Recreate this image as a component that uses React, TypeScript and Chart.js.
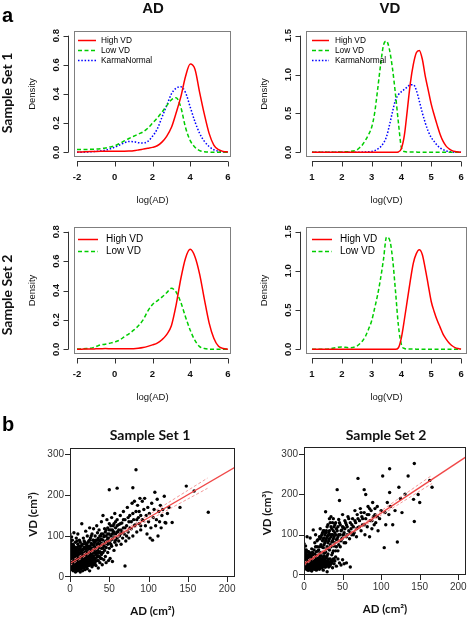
import React, { useEffect, useRef } from "react";
import { Chart, registerables } from "chart.js";
Chart.register(...registerables);

const W = 470;
const H = 619;

// ---------- density data ----------
const AD_X = [-2, -1.75, -1.5, -1.25, -1, -0.75, -0.5, -0.25, 0, 0.25, 0.5, 0.75, 1, 1.25, 1.5, 1.75, 2, 2.25, 2.5, 2.75, 3, 3.25, 3.5, 3.75, 4, 4.25, 4.5, 4.75, 5, 5.25, 5.5, 5.75, 6];
const VD_X = [1, 1.5, 2, 2.25, 2.5, 2.6, 2.7, 2.8, 2.9, 3, 3.1, 3.2, 3.3, 3.4, 3.5, 3.6, 3.7, 3.8, 3.9, 4, 4.1, 4.2, 4.3, 4.4, 4.5, 4.6, 4.7, 4.8, 4.9, 5, 5.1, 5.2, 5.3, 5.4, 5.5, 5.6, 5.7, 5.8, 5.9, 6];

const S1_AD_HIGH = [0.003, 0.003, 0.004, 0.005, 0.006, 0.007, 0.008, 0.008, 0.008, 0.008, 0.008, 0.009, 0.011, 0.016, 0.022, 0.028, 0.034, 0.045, 0.07, 0.11, 0.17, 0.27, 0.38, 0.52, 0.605, 0.57, 0.41, 0.26, 0.13, 0.05, 0.018, 0.006, 0.003];
const S1_AD_LOW = [0.02, 0.02, 0.02, 0.021, 0.022, 0.025, 0.03, 0.037, 0.045, 0.06, 0.078, 0.095, 0.11, 0.125, 0.14, 0.165, 0.2, 0.235, 0.275, 0.32, 0.36, 0.375, 0.31, 0.17, 0.08, 0.035, 0.012, 0.004, 0.001, 0, 0, 0, 0];
const S1_AD_KARMA = [0, 0.001, 0.002, 0.004, 0.006, 0.01, 0.015, 0.024, 0.035, 0.05, 0.065, 0.074, 0.073, 0.066, 0.064, 0.075, 0.11, 0.16, 0.24, 0.32, 0.4, 0.44, 0.45, 0.41, 0.31, 0.21, 0.13, 0.075, 0.04, 0.018, 0.008, 0.003, 0.001];

const S1_VD_HIGH = [0, 0, 0, 0, 0, 0, 0, 0, 0, 0, 0, 0, 0, 0, 0, 0, 0, 0, 0.005, 0.05, 0.22, 0.55, 0.89, 1.13, 1.28, 1.31, 1.2, 0.98, 0.8, 0.62, 0.48, 0.35, 0.23, 0.14, 0.08, 0.045, 0.022, 0.01, 0.004, 0.001];
const S1_VD_LOW = [0, 0, 0.005, 0.01, 0.03, 0.06, 0.1, 0.16, 0.23, 0.32, 0.5, 0.8, 1.12, 1.38, 1.43, 1.32, 1.08, 0.75, 0.38, 0.06, 0.01, 0.005, 0.004, 0.003, 0.003, 0.002, 0.002, 0.001, 0.001, 0.001, 0, 0, 0, 0, 0, 0, 0, 0, 0, 0];
const S1_VD_KARMA = [0, 0, 0, 0, 0.001, 0.002, 0.003, 0.004, 0.006, 0.01, 0.02, 0.04, 0.07, 0.12, 0.2, 0.35, 0.52, 0.67, 0.74, 0.78, 0.81, 0.84, 0.87, 0.87, 0.8, 0.66, 0.51, 0.38, 0.27, 0.19, 0.14, 0.09, 0.055, 0.035, 0.018, 0.01, 0.005, 0.002, 0.001, 0];

const S2_AD_HIGH = [0.001, 0.001, 0.002, 0.002, 0.003, 0.004, 0.005, 0.004, 0.003, 0.003, 0.003, 0.003, 0.004, 0.007, 0.012, 0.02, 0.03, 0.042, 0.065, 0.1, 0.16, 0.3, 0.48, 0.62, 0.68, 0.63, 0.51, 0.34, 0.18, 0.075, 0.02, 0.005, 0.001];
const S2_AD_LOW = [0.002, 0.003, 0.005, 0.008, 0.018, 0.03, 0.035, 0.042, 0.05, 0.062, 0.085, 0.105, 0.13, 0.16, 0.2, 0.26, 0.305, 0.33, 0.355, 0.385, 0.415, 0.39, 0.32, 0.22, 0.13, 0.06, 0.018, 0.005, 0.001, 0, 0, 0, 0];

const S2_VD_HIGH = [0, 0, 0, 0, 0, 0, 0, 0, 0, 0, 0, 0, 0, 0, 0, 0, 0, 0, 0.02, 0.15, 0.38, 0.63, 0.88, 1.1, 1.22, 1.27, 1.21, 1.03, 0.82, 0.61, 0.48, 0.37, 0.28, 0.19, 0.13, 0.08, 0.045, 0.022, 0.01, 0.003];
const S2_VD_LOW = [0, 0.002, 0.03, 0.02, 0.04, 0.07, 0.11, 0.17, 0.26, 0.36, 0.52, 0.69, 0.9, 1.15, 1.43, 1.4, 1.17, 0.75, 0.3, 0.06, 0.01, 0.004, 0.003, 0.003, 0.002, 0.002, 0.002, 0.002, 0.001, 0.001, 0, 0, 0, 0, 0, 0, 0, 0, 0, 0];

const AD_TICKS_X = [-2, 0, 2, 4, 6];
const AD_TICKS_Y = [0, 0.2, 0.4, 0.6, 0.8];
const VD_TICKS_X = [1, 2, 3, 4, 5, 6];
const VD_TICKS_Y = [0, 0.5, 1, 1.5];

// ---------- scatter data (AD cm², VD cm³) ----------
const S1_POINTS = [
  [0, 22], [0, 30], [0, 38], [0, 45], [0, 52], [0, 60], [0, 68], [0, 75], [0, 105], [1, 18], [1, 28], [1, 35], [1, 42], [1, 50], [1, 57], [1, 65], [1, 72], [1, 88], [2, 25], [2, 33], [2, 40], [2, 47], [2, 55], [2, 62], [2, 80], [2, 98], [3, 20], [3, 30], [3, 44], [3, 52], [3, 66], [3, 58],
  [4, 15], [4, 27], [4, 38], [4, 48], [4, 61], [4, 70], [5, 22], [5, 35], [5, 45], [5, 55], [5, 75], [5, 108], [6, 18], [6, 30], [6, 42], [6, 50], [6, 64], [7, 12], [7, 25], [7, 38], [7, 47], [7, 58], [7, 85], [8, 20], [8, 33], [8, 44], [8, 52], [8, 68], [8, 95], [9, 15], [9, 28], [9, 40], [9, 60], [9, 72], [10, 22], [10, 35], [10, 45], [10, 55], [10, 80], [10, 105],
  [11, 18], [11, 30], [11, 42], [11, 65], [12, 25], [12, 38], [12, 50], [12, 58], [12, 90], [13, 12], [13, 33], [13, 46], [13, 70], [14, 20], [14, 40], [14, 55], [14, 62], [15, 28], [15, 36], [15, 48], [15, 78], [15, 130], [16, 15], [16, 32], [16, 52], [16, 66], [17, 22], [17, 44], [17, 58], [17, 95], [18, 30], [18, 40], [18, 50], [18, 72], [19, 18], [19, 36], [19, 60], [19, 85], [20, 26], [20, 45], [20, 55], [20, 68], [20, 112],
  [21, 32], [21, 48], [21, 80], [22, 20], [22, 40], [22, 62], [22, 100], [23, 28], [23, 50], [23, 70], [24, 35], [24, 55], [24, 88], [25, 15], [25, 42], [25, 60], [25, 75], [25, 120], [26, 30], [26, 50], [26, 95], [27, 38], [27, 65], [27, 82], [28, 25], [28, 45], [28, 58], [28, 105], [29, 40], [29, 70], [29, 90], [30, 30], [30, 52], [30, 62], [30, 78], [30, 118],
  [31, 45], [31, 85], [32, 35], [32, 60], [32, 100], [33, 28], [33, 55], [33, 72], [34, 48], [34, 90], [34, 125], [35, 40], [35, 65], [35, 80], [35, 108], [36, 22], [36, 58], [36, 95], [37, 50], [37, 75], [37, 115], [38, 35], [38, 62], [38, 88], [39, 45], [39, 100], [40, 55], [40, 70], [40, 92], [40, 135],
  [41, 30], [41, 80], [42, 60], [42, 105], [42, 150], [43, 42], [43, 75], [43, 98], [44, 65], [44, 118], [45, 50], [45, 85], [45, 110], [46, 35], [46, 72], [46, 100], [47, 90], [47, 140], [48, 60], [48, 80], [48, 120], [49, 40], [49, 95], [50, 213], [50, 70], [50, 105], [50, 130],
  [51, 45], [51, 88], [52, 115], [52, 100], [53, 75], [53, 145], [54, 38], [54, 92], [55, 110], [55, 125], [56, 65], [56, 98], [57, 85], [57, 155], [58, 105], [58, 120], [59, 78], [60, 217], [60, 95], [60, 140],
  [61, 110], [62, 88], [62, 128], [63, 100], [64, 150], [65, 115], [65, 80], [66, 132], [67, 95], [68, 120], [68, 160], [69, 105], [70, 27], [70, 140], [71, 88], [72, 125], [73, 170], [74, 110], [75, 135], [75, 95],
  [76, 150], [78, 118], [79, 180], [80, 218], [80, 100], [81, 140], [82, 185], [83, 128], [84, 262], [84, 160], [85, 110], [86, 175], [87, 145], [88, 130], [89, 192], [90, 150], [90, 115], [92, 185], [93, 138], [94, 165], [95, 192], [96, 125], [97, 150], [98, 105], [99, 170], [100, 135],
  [101, 155], [102, 95], [103, 120], [104, 180], [105, 90], [106, 145], [107, 165], [108, 207], [109, 125], [110, 140], [111, 190], [112, 100], [113, 160], [114, 135], [115, 175], [116, 120], [117, 150], [118, 165], [120, 197], [121, 133], [122, 132], [124, 155], [126, 170], [130, 133],
  [140, 170], [148, 222], [158, 210], [176, 158],
];
const S1_POINTS_DENSE = [
  [0, 27], [0, 33], [0, 42], [0, 49], [0, 56], [0, 64], [0, 85], [0, 95], [1, 24], [1, 31], [1, 46], [1, 53], [1, 61], [1, 78], [2, 22], [2, 29], [2, 37], [2, 44], [2, 51], [2, 58], [2, 68], [3, 26], [3, 35], [3, 40], [3, 48], [3, 75], [3, 90],
  [4, 22], [4, 33], [4, 43], [4, 53], [4, 80], [5, 18], [5, 28], [5, 40], [5, 50], [5, 62], [6, 24], [6, 36], [6, 46], [6, 57], [6, 72], [7, 18], [7, 31], [7, 42], [7, 52], [7, 65], [8, 26], [8, 38], [8, 48], [8, 60], [9, 22], [9, 34], [9, 46], [9, 52], [9, 88], [10, 16], [10, 28], [10, 40], [10, 50], [10, 62],
  [11, 24], [11, 36], [11, 50], [11, 75], [12, 18], [12, 31], [12, 44], [12, 68], [13, 24], [13, 40], [13, 55], [13, 85], [14, 28], [14, 34], [14, 48], [14, 75], [15, 22], [15, 42], [15, 56], [15, 65], [16, 25], [16, 40], [16, 45], [16, 80], [17, 30], [17, 36], [17, 50], [17, 68], [18, 22], [18, 45], [18, 58], [18, 88], [19, 28], [19, 45], [19, 52], [19, 72], [20, 35], [20, 40], [20, 62], [20, 80],
  [21, 25], [21, 40], [21, 58], [21, 70], [22, 30], [22, 50], [22, 55], [22, 75], [23, 36], [23, 44], [23, 62], [23, 85], [24, 28], [24, 45], [24, 65], [24, 75], [25, 35], [25, 50], [25, 68], [25, 90], [26, 40], [26, 60], [26, 72], [27, 30], [27, 48], [27, 55], [27, 100], [28, 35], [28, 68], [28, 80], [29, 30], [29, 50], [29, 62], [29, 78], [30, 42], [30, 70], [30, 90],
  [31, 35], [31, 60], [31, 72], [32, 45], [32, 70], [32, 85], [33, 40], [33, 65], [33, 90], [34, 58], [34, 68], [34, 78], [35, 50], [35, 90], [36, 40], [36, 70], [36, 82], [37, 60], [37, 90], [38, 48], [38, 75], [38, 100], [39, 60], [39, 80], [40, 45], [40, 82], [40, 105],
  [42, 70], [42, 90], [44, 80], [44, 100], [46, 85], [46, 115], [48, 95], [48, 105], [50, 85], [50, 115], [52, 80], [52, 125], [54, 105], [54, 115], [56, 110], [56, 130], [58, 90], [58, 135], [60, 110], [60, 125], [62, 115], [64, 105], [64, 130], [66, 110], [68, 140], [70, 120], [72, 100], [74, 145], [76, 120], [78, 135], [80, 155], [82, 125], [85, 140], [88, 160], [90, 125], [92, 140],
];

const S2_POINTS = [
  [0, 22], [0, 30], [0, 38], [0, 46], [0, 55], [0, 78], [1, 18], [1, 26], [1, 34], [1, 42], [1, 50], [1, 62], [2, 20], [2, 28], [2, 36], [2, 45], [2, 72], [3, 15], [3, 24], [3, 32], [3, 40], [3, 52], [4, 18], [4, 27], [4, 35], [4, 44], [4, 95], [5, 12], [5, 22], [5, 30], [5, 38], [5, 48],
  [6, 16], [6, 25], [6, 33], [6, 42], [6, 58], [7, 20], [7, 28], [7, 36], [7, 46], [8, 14], [8, 24], [8, 32], [8, 40], [8, 52], [8, 92], [9, 18], [9, 26], [9, 35], [9, 44], [10, 10], [10, 22], [10, 30], [10, 38], [10, 48], [10, 65], [11, 16], [11, 28], [11, 36], [11, 56], [12, 20], [12, 32], [12, 42], [12, 112], [13, 14], [13, 26], [13, 38], [13, 50], [14, 22], [14, 30], [14, 44], [14, 80], [15, 18], [15, 28], [15, 36], [15, 46], [15, 100],
  [16, 12], [16, 24], [16, 32], [16, 40], [16, 58], [17, 20], [17, 30], [17, 38], [17, 70], [18, 16], [18, 26], [18, 34], [18, 48], [18, 88], [19, 22], [19, 30], [19, 42], [19, 62], [20, 14], [20, 26], [20, 36], [20, 52], [20, 95], [21, 20], [21, 32], [21, 44], [21, 115], [22, 24], [22, 38], [22, 75], [23, 18], [23, 30], [23, 56], [23, 100], [24, 26], [24, 40], [24, 85], [25, 12], [25, 22], [25, 34], [25, 68], [25, 110],
  [26, 28], [26, 48], [26, 92], [27, 20], [27, 38], [27, 80], [28, 30], [28, 58], [28, 157], [28, 105], [29, 24], [29, 45], [29, 90], [30, 8], [30, 34], [30, 70], [30, 120], [31, 28], [31, 52], [31, 98], [32, 20], [32, 40], [32, 85], [33, 32], [33, 62], [33, 110], [34, 25], [34, 75], [34, 130], [35, 36], [35, 95], [35, 145],
  [36, 30], [36, 82], [36, 115], [37, 18], [37, 55], [37, 100], [38, 40], [38, 90], [38, 140], [39, 28], [39, 72], [39, 120], [40, 35], [40, 105], [41, 60], [41, 130], [42, 22], [42, 88], [43, 212], [43, 110], [44, 40], [44, 95], [45, 75], [45, 138], [46, 185], [46, 30], [47, 100], [47, 125], [48, 25], [48, 85], [49, 112], [50, 150], [50, 38], [50, 92],
  [51, 118], [52, 28], [52, 105], [53, 135], [54, 80], [55, 30], [55, 125], [56, 100], [57, 145], [58, 110], [59, 90], [60, 20], [60, 130], [61, 115], [62, 100], [63, 140], [64, 120], [65, 105], [66, 160], [67, 130], [68, 95], [69, 150], [70, 240], [70, 118],
  [72, 135], [73, 165], [74, 110], [75, 145], [76, 125], [78, 212], [78, 155], [79, 100], [80, 200], [80, 140], [82, 120], [83, 170], [84, 150], [85, 95], [86, 135], [87, 160], [88, 115], [89, 180], [90, 145], [91, 125], [92, 150], [93, 130], [95, 170], [96, 110], [98, 140], [100, 160],
  [102, 246], [104, 68], [105, 155], [106, 125], [108, 180], [110, 150], [111, 264], [111, 205], [112, 170], [115, 125], [118, 160], [121, 82], [123, 218], [125, 190], [127, 155], [131, 201], [135, 246], [142, 188], [143, 277], [143, 133], [148, 200], [150, 180], [163, 235], [166, 218],
];
const S2_POINTS_DENSE = [
  [0, 26], [0, 34], [0, 42], [0, 50], [0, 62], [1, 22], [1, 30], [1, 38], [1, 46], [1, 55], [2, 16], [2, 24], [2, 32], [2, 40], [2, 50], [2, 58], [3, 20], [3, 28], [3, 36], [3, 45], [3, 62], [4, 14], [4, 22], [4, 31], [4, 40], [4, 50], [5, 17], [5, 26], [5, 34], [5, 43], [5, 58],
  [6, 12], [6, 20], [6, 29], [6, 37], [6, 48], [7, 16], [7, 24], [7, 32], [7, 40], [7, 55], [8, 18], [8, 28], [8, 36], [8, 46], [9, 12], [9, 22], [9, 30], [9, 40], [9, 55], [10, 14], [10, 26], [10, 34], [10, 42], [11, 20], [11, 24], [11, 32], [11, 44], [12, 16], [12, 26], [12, 36], [12, 50], [13, 20], [13, 30], [13, 44], [13, 62], [14, 16], [14, 26], [14, 36], [14, 52], [15, 14], [15, 24], [15, 32], [15, 40], [15, 70],
  [16, 20], [16, 28], [16, 36], [16, 48], [17, 16], [17, 26], [17, 34], [17, 46], [17, 85], [18, 22], [18, 30], [18, 40], [18, 60], [19, 18], [19, 26], [19, 36], [19, 50], [20, 20], [20, 30], [20, 44], [20, 70], [21, 26], [21, 38], [21, 55], [21, 90], [22, 18], [22, 30], [22, 48], [22, 95], [23, 24], [23, 38], [23, 70], [24, 20], [24, 32], [24, 55], [24, 105], [25, 28], [25, 45], [25, 90],
  [26, 22], [26, 36], [26, 75], [26, 110], [27, 28], [27, 55], [27, 100], [28, 20], [28, 42], [28, 85], [29, 32], [29, 65], [29, 110], [30, 24], [30, 48], [30, 95], [31, 38], [31, 80], [31, 125], [32, 30], [32, 65], [32, 105], [33, 22], [33, 90], [33, 140], [34, 40], [34, 100], [35, 28], [35, 70], [35, 120],
  [36, 50], [36, 100], [37, 35], [37, 85], [37, 130], [38, 60], [38, 110], [39, 40], [39, 95], [40, 80], [40, 125], [41, 45], [41, 100], [42, 70], [42, 115], [43, 90], [44, 60], [44, 120], [45, 100], [46, 85], [46, 130], [47, 70], [48, 110], [49, 90], [50, 120],
  [51, 100], [52, 80], [53, 115], [54, 130], [55, 95], [56, 120], [58, 140], [60, 105], [62, 125], [64, 100], [66, 135], [68, 115], [70, 140], [72, 120], [74, 155], [76, 140], [78, 125], [82, 150], [85, 165], [88, 135], [92, 165], [95, 145],
];

const S1_FIT_X = [0, 212];
const S1_FIT_Y = [33, 270];
const S1_CI_X = [0, 25, 50, 75, 100, 125, 150, 175];
const S1_CI_UP = [38, 64.5, 92, 121.5, 151.5, 181.5, 211.5, 241.5];
const S1_CI_LO = [28, 57.5, 86, 112.5, 138.5, 164.5, 190.5, 216.5];

const S2_FIT_X = [0, 212];
const S2_FIT_Y = [27, 296];
const S2_CI_X = [0, 25, 50, 75, 100, 125, 150, 166];
const S2_CI_UP = [31, 61.5, 93, 126, 159.5, 193, 226.5, 248];
const S2_CI_LO = [23, 56, 88, 118.5, 148.5, 178.5, 208.5, 227.5];

const SC_TICKS_X = [0, 50, 100, 150, 200];
const SC_TICKS_Y = [0, 100, 200, 300];

// ---------- styling ----------
const RED = "#ff0000";
const GREEN = "#00cd00";
const BLUE = "#0000ff";
const SANS = '"Liberation Sans", Arial, sans-serif';
const CAL = 'Lato, "Liberation Sans", sans-serif';

function xy(xs: number[], ys: number[]) {
  return xs.map((x, i) => ({ x, y: ys[i] }));
}

function dens(label: string, X: number[], Y: number[], color: string, dash: number[]) {
  return {
    label,
    data: xy(X, Y),
    borderColor: color,
    borderWidth: 1.5,
    borderDash: dash,
    pointRadius: 0,
    fill: false,
    cubicInterpolationMode: "monotone",
  };
}

const HIGH_DASH: number[] = [];
const LOW_DASH = [4, 2.5];
const KARMA_DASH = [1.5, 1.8];

type Panel = any;

const PANELS: Panel[] = [
  {
    kind: "density", box: { l: 74, t: 31, r: 231, b: 157 }, xr: [-2.16, 6.16], yr: [-0.032, 0.832],
    xTicks: AD_TICKS_X, yTicks: AD_TICKS_Y, xTitle: "log(AD)", yTitle: "Density",
    legend: { font: 8.3, x0: 4, x1: 22, tx: 27, y0: 9, dy: 10 },
    datasets: [
      dens("High VD", AD_X, S1_AD_HIGH, RED, HIGH_DASH),
      dens("Low VD", AD_X, S1_AD_LOW, GREEN, LOW_DASH),
      dens("KarmaNormal", AD_X, S1_AD_KARMA, BLUE, KARMA_DASH),
    ],
  },
  {
    kind: "density", box: { l: 306, t: 31, r: 467, b: 157 }, xr: [0.8, 6.2], yr: [-0.06, 1.56],
    xTicks: VD_TICKS_X, yTicks: VD_TICKS_Y, xTitle: "log(VD)", yTitle: "Density",
    legend: { font: 8.3, x0: 6, x1: 23, tx: 29, y0: 9, dy: 10 },
    datasets: [
      dens("High VD", VD_X, S1_VD_HIGH, RED, HIGH_DASH),
      dens("Low VD", VD_X, S1_VD_LOW, GREEN, LOW_DASH),
      dens("KarmaNormal", VD_X, S1_VD_KARMA, BLUE, KARMA_DASH),
    ],
  },
  {
    kind: "density", box: { l: 74, t: 227, r: 231, b: 354 }, xr: [-2.16, 6.16], yr: [-0.032, 0.832],
    xTicks: AD_TICKS_X, yTicks: AD_TICKS_Y, xTitle: "log(AD)", yTitle: "Density",
    legend: { font: 10, x0: 4, x1: 24, tx: 32, y0: 12, dy: 12 },
    datasets: [
      dens("High VD", AD_X, S2_AD_HIGH, RED, HIGH_DASH),
      dens("Low VD", AD_X, S2_AD_LOW, GREEN, LOW_DASH),
    ],
  },
  {
    kind: "density", box: { l: 306, t: 227, r: 467, b: 354 }, xr: [0.8, 6.2], yr: [-0.06, 1.56],
    xTicks: VD_TICKS_X, yTicks: VD_TICKS_Y, xTitle: "log(VD)", yTitle: "Density",
    legend: { font: 10, x0: 6, x1: 26, tx: 34, y0: 12, dy: 12 },
    datasets: [
      dens("High VD", VD_X, S2_VD_HIGH, RED, HIGH_DASH),
      dens("Low VD", VD_X, S2_VD_LOW, GREEN, LOW_DASH),
    ],
  },
  {
    kind: "scatter", box: { l: 70, t: 448, r: 235, b: 577 }, xr: [0, 210], yr: [0, 315],
    xTicks: SC_TICKS_X, yTicks: SC_TICKS_Y, xTitle: "AD (cm²)", yTitle: "VD (cm³)",
    points: S1_POINTS.concat(S1_POINTS_DENSE), fitX: S1_FIT_X, fitY: S1_FIT_Y, ciX: S1_CI_X, ciUp: S1_CI_UP, ciLo: S1_CI_LO,
  },
  {
    kind: "scatter", box: { l: 304, t: 447, r: 468, b: 575 }, xr: [0, 210], yr: [0, 318],
    xTicks: SC_TICKS_X, yTicks: SC_TICKS_Y, xTitle: "AD (cm²)", yTitle: "VD (cm³)",
    points: S2_POINTS.concat(S2_POINTS_DENSE), fitX: S2_FIT_X, fitY: S2_FIT_Y, ciX: S2_CI_X, ciUp: S2_CI_UP, ciLo: S2_CI_LO,
  },
];

function rotText(ctx: CanvasRenderingContext2D, text: string, x: number, y: number) {
  ctx.save();
  ctx.translate(x, y);
  ctx.rotate(-Math.PI / 2);
  ctx.textAlign = "center";
  ctx.textBaseline = "middle";
  ctx.fillText(text, 0, 0);
  ctx.restore();
}

function drawDensity(chart: any, p: Panel) {
  const ctx: CanvasRenderingContext2D = chart.ctx;
  const xs = chart.scales.x;
  const ys = chart.scales.y;
  const ca = chart.chartArea;
  const L = Math.round(ca.left), T = Math.round(ca.top), R = Math.round(ca.right), B = Math.round(ca.bottom);
  ctx.save();
  ctx.lineWidth = 1;
  ctx.strokeStyle = "#7f7f7f";
  ctx.strokeRect(L + 0.5, T + 0.5, R - L - 1, B - T - 1);

  ctx.strokeStyle = "#333";
  const ay = B + 4.5;
  ctx.beginPath();
  const xa = xs.getPixelForValue(p.xTicks[0]);
  const xb = xs.getPixelForValue(p.xTicks[p.xTicks.length - 1]);
  ctx.moveTo(xa, ay);
  ctx.lineTo(xb, ay);
  for (const t of p.xTicks) {
    const x = Math.round(xs.getPixelForValue(t)) + 0.5;
    ctx.moveTo(x, ay);
    ctx.lineTo(x, ay + 5);
  }
  const ax = L - 5.5;
  const ya = ys.getPixelForValue(p.yTicks[0]);
  const yb = ys.getPixelForValue(p.yTicks[p.yTicks.length - 1]);
  ctx.moveTo(ax, ya);
  ctx.lineTo(ax, yb);
  for (const t of p.yTicks) {
    const y = Math.round(ys.getPixelForValue(t)) + 0.5;
    ctx.moveTo(ax, y);
    ctx.lineTo(ax - 5, y);
  }
  ctx.stroke();

  ctx.fillStyle = "#111";
  ctx.font = `bold 9.5px ${SANS}`;
  ctx.textAlign = "center";
  ctx.textBaseline = "middle";
  for (const t of p.xTicks) {
    ctx.fillText(String(t), xs.getPixelForValue(t), B + 20);
  }
  for (const t of p.yTicks) {
    rotText(ctx, t.toFixed(1), L - 18, ys.getPixelForValue(t));
  }
  ctx.font = `9.5px ${SANS}`;
  ctx.fillText(p.xTitle, (L + R) / 2, B + 43);
  rotText(ctx, p.yTitle, L - 42, (T + B) / 2);

  const lg = p.legend;
  chart.data.datasets.forEach((ds: any, i: number) => {
    const y = T + lg.y0 + i * lg.dy + 0.5;
    ctx.beginPath();
    ctx.strokeStyle = ds.borderColor;
    ctx.lineWidth = 1.5;
    ctx.setLineDash(ds.borderDash || []);
    ctx.moveTo(L + lg.x0, y);
    ctx.lineTo(L + lg.x1, y);
    ctx.stroke();
    ctx.setLineDash([]);
    ctx.fillStyle = "#000";
    ctx.font = `${lg.font}px ${SANS}`;
    ctx.textAlign = "left";
    ctx.textBaseline = "middle";
    ctx.fillText(ds.label, L + lg.tx, y);
  });
  ctx.restore();
}

function drawScatter(chart: any, p: Panel) {
  const ctx: CanvasRenderingContext2D = chart.ctx;
  const xs = chart.scales.x;
  const ys = chart.scales.y;
  const ca = chart.chartArea;
  const L = Math.round(ca.left), T = Math.round(ca.top), R = Math.round(ca.right), B = Math.round(ca.bottom);
  ctx.save();
  ctx.lineWidth = 1;
  ctx.strokeStyle = "#222";
  ctx.strokeRect(L + 0.5, T + 0.5, R - L - 1, B - T - 1);
  ctx.beginPath();
  for (const t of p.yTicks) {
    const y = Math.min(Math.round(ys.getPixelForValue(t)), B - 1) + 0.5;
    ctx.moveTo(L, y);
    ctx.lineTo(L - 5, y);
  }
  for (const t of p.xTicks) {
    const x = Math.max(Math.round(xs.getPixelForValue(t)), L) + 0.5;
    ctx.moveTo(x, B);
    ctx.lineTo(x, B + 5);
  }
  ctx.stroke();
  ctx.fillStyle = "#333";
  ctx.font = `10px ${SANS}`;
  ctx.textAlign = "right";
  ctx.textBaseline = "middle";
  for (const t of p.yTicks) {
    ctx.fillText(String(t), L - 6, ys.getPixelForValue(t));
  }
  ctx.textAlign = "center";
  for (const t of p.xTicks) {
    ctx.fillText(String(t), xs.getPixelForValue(t), B + 12);
  }
  ctx.fillStyle = "#111";
  ctx.font = `bold 11.5px ${CAL}`;
  ctx.fillText(p.xTitle, (L + R) / 2, B + 34);
  rotText(ctx, p.yTitle, L - 37, (T + B) / 2 + 2);
  ctx.restore();
}

function makeConfig(p: Panel) {
  const b = p.box;
  let type: any;
  let datasets: any[];
  if (p.kind === "density") {
    type = "line";
    datasets = p.datasets;
  } else {
    type = "scatter";
    datasets = [
      {
        label: "fit", data: xy(p.fitX, p.fitY), showLine: true, borderColor: "#f04848",
        borderWidth: 1.3, pointRadius: 0, order: 0,
      },
      {
        label: "upper", data: xy(p.ciX, p.ciUp), showLine: true, borderColor: "#f08f8f",
        borderWidth: 0.9, borderDash: [3, 2], pointRadius: 0, order: 1, tension: 0.3,
      },
      {
        label: "lower", data: xy(p.ciX, p.ciLo), showLine: true, borderColor: "#f08f8f",
        borderWidth: 0.9, borderDash: [3, 2], pointRadius: 0, order: 1, tension: 0.3,
      },
      {
        label: "points", data: p.points.map((q: number[]) => ({ x: q[0], y: q[1] })),
        showLine: false, pointRadius: 1.7, pointBackgroundColor: "#000", pointBorderWidth: 0,
        borderColor: "#000", order: 2,
      },
    ];
  }
  return {
    type,
    data: { datasets },
    options: {
      animation: false,
      responsive: false,
      devicePixelRatio: 1,
      events: [],
      layout: { padding: { left: b.l, top: b.t, right: W - b.r, bottom: H - b.b } },
      plugins: { legend: { display: false }, tooltip: { enabled: false }, title: { display: false } },
      scales: {
        x: { type: "linear", display: false, min: p.xr[0], max: p.xr[1] },
        y: { type: "linear", display: false, min: p.yr[0], max: p.yr[1] },
      },
    },
    plugins: [
      {
        id: "rDecor",
        afterDraw(chart: any) {
          if (p.kind === "density") drawDensity(chart, p);
          else drawScatter(chart, p);
        },
      },
    ],
  };
}

function PanelCanvas({ panel }: { panel: Panel }) {
  const ref = useRef<HTMLCanvasElement>(null);
  useEffect(() => {
    const chart = new Chart(ref.current as HTMLCanvasElement, makeConfig(panel) as any);
    return () => chart.destroy();
  }, [panel]);
  return (
    <canvas
      ref={ref}
      width={W}
      height={H}
      style={{ position: "absolute", left: 0, top: 0, width: W, height: H }}
    />
  );
}

const centered = (cx: number, cy: number, font: string, rot = false): React.CSSProperties => ({
  position: "absolute",
  left: cx,
  top: cy,
  transform: rot ? "translate(-50%,-50%) rotate(-90deg)" : "translate(-50%,-50%)",
  whiteSpace: "nowrap",
  font,
  lineHeight: 1,
  color: "#111",
});

export default function App() {
  return (
    <div style={{ position: "absolute", left: 0, top: 0, width: W, height: H, background: "#fff", overflow: "hidden" }}>
      {PANELS.map((p, i) => (
        <PanelCanvas key={i} panel={p} />
      ))}
      <div style={{ position: "absolute", left: 2, top: 5, font: `bold 20px ${SANS}`, lineHeight: "20px" }}>a</div>
      <div style={{ position: "absolute", left: 2, top: 414, font: `bold 20px ${SANS}`, lineHeight: "20px" }}>b</div>
      <div style={centered(153, 7, `bold 15px ${SANS}`)}>AD</div>
      <div style={centered(390, 7, `bold 15px ${SANS}`)}>VD</div>
      <div style={centered(7, 93, `bold 14px ${CAL}`, true)}>Sample Set 1</div>
      <div style={centered(7, 295, `bold 14px ${CAL}`, true)}>Sample Set 2</div>
      <div style={centered(150, 435, `bold 14px ${CAL}`)}>Sample Set 1</div>
      <div style={centered(386, 435, `bold 14px ${CAL}`)}>Sample Set 2</div>
    </div>
  );
}
